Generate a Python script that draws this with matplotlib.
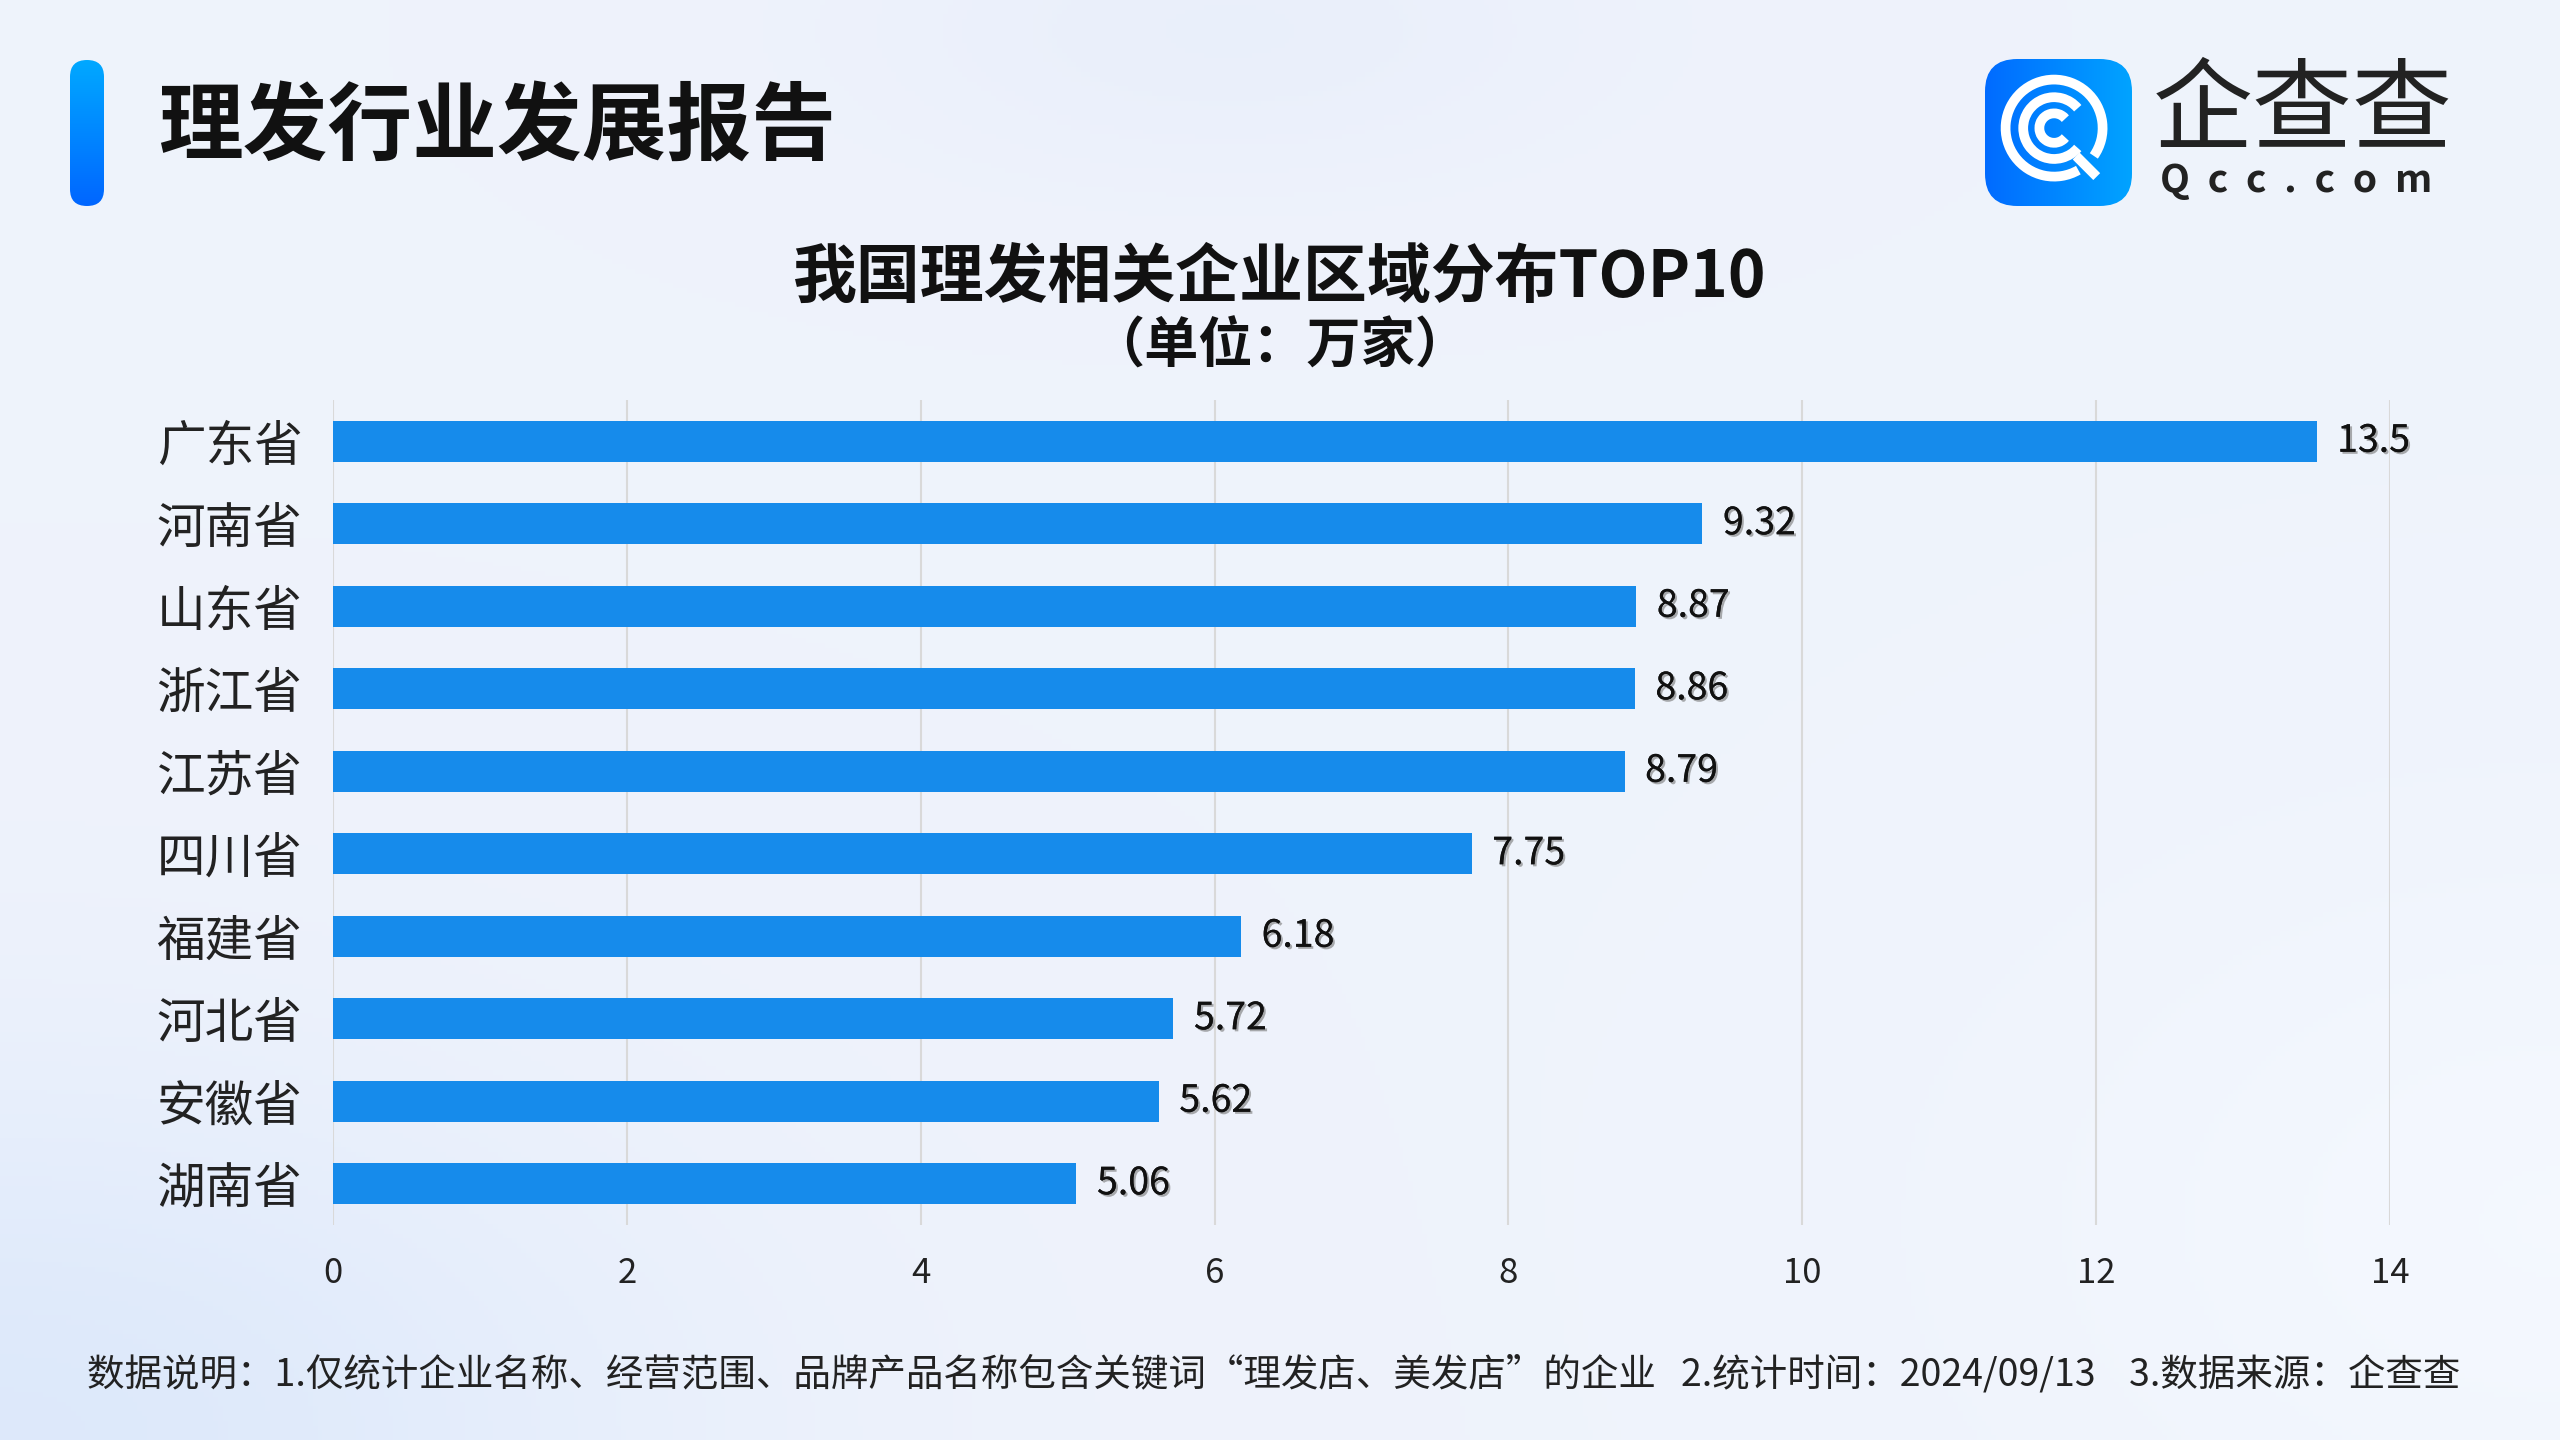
import numpy as np
import matplotlib
matplotlib.use("Agg")
import matplotlib.pyplot as plt
from matplotlib.patches import FancyBboxPatch, Arc
import matplotlib.patheffects as pe

plt.rcParams['font.family'] = ['Noto Sans CJK SC', 'DejaVu Sans']

# data
provinces = ['广东省', '河南省', '山东省', '浙江省', '江苏省',
             '四川省', '福建省', '河北省', '安徽省', '湖南省']
counts = [13.5, 9.32, 8.87, 8.86, 8.79, 7.75, 6.18, 5.72, 5.62, 5.06]
count_labels = ['13.5', '9.32', '8.87', '8.86', '8.79', '7.75', '6.18', '5.72', '5.62', '5.06']
x_ticks = [0, 2, 4, 6, 8, 10, 12, 14]

header = '理发行业发展报告'
title = '我国理发相关企业区域分布TOP10'
subtitle = '（单位：万家）'
footnote = ('数据说明：1.仅统计企业名称、经营范围、品牌产品名称包含关键词“理发店、美发店”的企业   '
            '2.统计时间：2024/09/13    3.数据来源：企查查')

bar_color = '#168BEB'

fig = plt.figure(figsize=(25.6, 14.4), dpi=100)

# background
bg = fig.add_axes([0, 0, 1, 1])
yy, xx = np.mgrid[0:1:300j, 0:1:540j]
img = np.zeros((300, 540, 3))
img[:] = np.array([0.937, 0.953, 0.988])
blob1 = np.exp(-(((xx - 0.48) / 0.14) ** 2 + ((yy - 0.02) / 0.1) ** 2))
blob2 = np.exp(-(((xx - 0.0) / 0.25) ** 2 + ((yy - 1.0) / 0.25) ** 2))
blob3 = np.exp(-(((xx - 1.0) / 0.2) ** 2 + ((yy - 0.85) / 0.25) ** 2))
img += blob1[..., None] * np.array([-0.02, -0.015, -0.005])
img += blob2[..., None] * np.array([-0.07, -0.04, -0.005])
img += blob3[..., None] * np.array([0.02, 0.02, 0.01])
bg.imshow(np.clip(img, 0, 1), aspect='auto', extent=[0, 1, 0, 1], origin='upper')
bg.set_xlim(0, 1)
bg.set_ylim(0, 1)
bg.axis('off')

# header pill
pill = fig.add_axes([70 / 2560, 1 - 206 / 1440, 34 / 2560, 146 / 1440])
grad = np.linspace(0, 1, 100)[:, None]
cols = np.array([0.0, 0.66, 1.0]) * (1 - grad[..., None]) + np.array([0.0, 0.40, 1.0]) * grad[..., None]
im = pill.imshow(np.repeat(cols, 2, axis=1), aspect='auto', extent=[0, 1, 0, 1], origin='upper')
clip = FancyBboxPatch((0, 0), 1, 1, boxstyle='round,pad=0,rounding_size=0.5',
                      transform=pill.transData, facecolor='none', edgecolor='none',
                      mutation_aspect=0.23)
pill.add_patch(clip)
im.set_clip_path(clip)
pill.set_xlim(0, 1)
pill.set_ylim(0, 1)
pill.axis('off')

fig.text(158 / 2560, 1 - 128 / 1440, header, fontsize=61, fontweight='heavy',
         color='#111111', va='center', ha='left')

# logo
lg = fig.add_axes([1985 / 2560, 1 - 206 / 1440, 147 / 2560, 147 / 1440])
lg.set_xlim(0, 1)
lg.set_ylim(0, 1)
lg.axis('off')
gx = np.linspace(0, 1, 100)[None, :]
lcols = np.array([0.0, 0.42, 1.0]) * (1 - gx[..., None]) + np.array([0.0, 0.64, 1.0]) * gx[..., None]
lim = lg.imshow(np.repeat(lcols, 2, axis=0), aspect='auto', extent=[0, 1, 0, 1], origin='upper')
box = FancyBboxPatch((0, 0), 1, 1, boxstyle='round,pad=0,rounding_size=0.22',
                     transform=lg.transData, facecolor='none', edgecolor='none')
lg.add_patch(box)
lim.set_clip_path(box)
lg.add_patch(Arc((0.47, 0.53), 0.66, 0.66, theta1=-35, theta2=300, lw=7, color='white'))
lg.add_patch(Arc((0.47, 0.53), 0.42, 0.42, theta1=40, theta2=320, lw=7, color='white'))
lg.add_patch(Arc((0.47, 0.53), 0.2, 0.2, theta1=40, theta2=320, lw=7, color='white'))
lg.plot([0.62, 0.76], [0.34, 0.2], color='white', lw=7, solid_capstyle='butt')

fig.text(2153 / 2560, 1 - 113 / 1440, '企查查', fontsize=72, color='#222222',
         va='center', ha='left', fontweight='medium')
fig.text(2160 / 2560, 1 - 180 / 1440, 'Q  c  c  .  c  o  m', fontsize=28, color='#222222',
         va='center', ha='left', fontweight='bold')

# titles
fig.text(0.5, 1 - 278 / 1440, title, fontsize=46, fontweight='bold',
         color='#111111', ha='center', va='center')
fig.text(0.5, 1 - 347 / 1440, subtitle, fontsize=39, fontweight='bold',
         color='#111111', ha='center', va='center')

# chart
ax = fig.add_axes([333 / 2560, 1 - 1225 / 1440, 2057 / 2560, 825 / 1440])
ax.patch.set_alpha(0)
y = np.arange(len(provinces))
ax.barh(y, counts, height=0.5, color=bar_color, zorder=2)
ax.set_xlim(0, 14)
ax.set_ylim(9.5, -0.5)
ax.set_xticks(x_ticks)
ax.set_xticklabels([str(t) for t in x_ticks], fontsize=25, color='#222222')
ax.tick_params(axis='x', pad=22)
ax.set_yticks(y)
ax.set_yticklabels(provinces, fontsize=35, color='#222222')
ax.tick_params(axis='y', pad=22)
ax.tick_params(axis='both', length=0)
ax.grid(axis='x', color='#D9D9D9', lw=1.5, zorder=0)
for s in ax.spines.values():
    s.set_visible(False)

for yi, v, lab in zip(y, counts, count_labels):
    t = ax.text(v + 0.14, yi, lab, fontsize=27, color='#111111', va='center', ha='left', zorder=3)
    t.set_path_effects([pe.withSimplePatchShadow(offset=(1.5, -1.5), shadow_rgbFace='#777777', alpha=0.6),
                        pe.Normal()])

fig.text(0.4975, 1 - 1375 / 1440, footnote, fontsize=27, color='#222222',
         ha='center', va='center')

fig.savefig('out.png', dpi=100)
